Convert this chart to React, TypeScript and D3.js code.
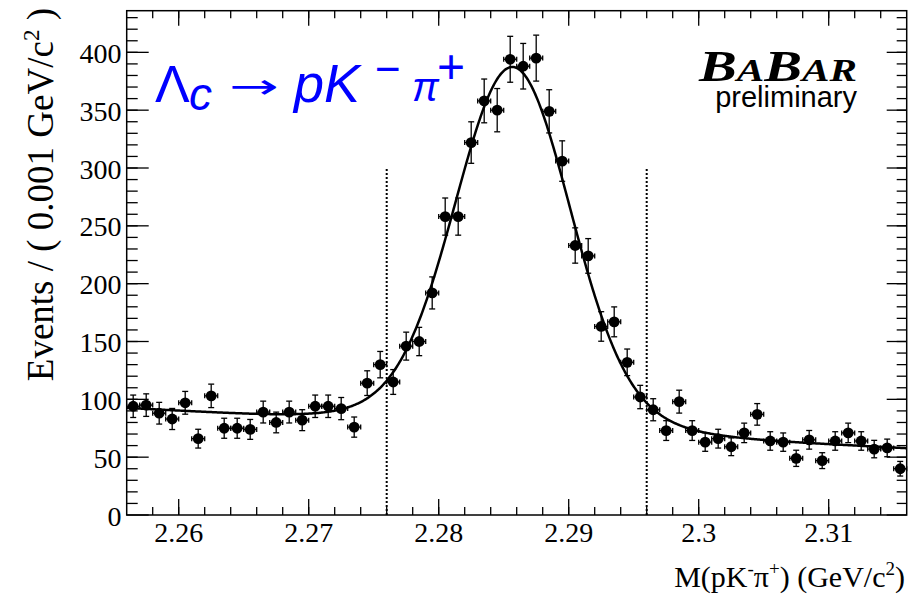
import React from "react";
import * as d3 from "d3";

const W = 922;
const H = 597;

// Histogram bin centres (GeV/c^2), bin width 0.001
const massBins = [
  2.2565, 2.2575, 2.2585, 2.2595, 2.2605, 2.2615, 2.2625, 2.2635, 2.2645, 2.2655,
  2.2665, 2.2675, 2.2685, 2.2695, 2.2705, 2.2715, 2.2725, 2.2735, 2.2745, 2.2755,
  2.2765, 2.2775, 2.2785, 2.2795, 2.2805, 2.2815, 2.2825, 2.2835, 2.2845, 2.2855,
  2.2865, 2.2875, 2.2885, 2.2895, 2.2905, 2.2915, 2.2925, 2.2935, 2.2945, 2.2955,
  2.2965, 2.2975, 2.2985, 2.2995, 2.3005, 2.3015, 2.3025, 2.3035, 2.3045, 2.3055,
  2.3065, 2.3075, 2.3085, 2.3095, 2.3105, 2.3115, 2.3125, 2.3135, 2.3145, 2.3155,
];
const binWidth = 0.001;

// Events per bin
const counts = [
  94, 95, 88, 83, 97, 66, 103, 75, 75, 74,
  89, 80, 89, 82, 94, 94, 92, 76, 114, 130,
  115, 146, 150, 192, 258, 258, 322, 358, 350, 394,
  388, 395, 349, 306, 233, 224, 163, 167, 132, 102,
  91, 73, 98, 73, 63, 66, 59, 71, 87, 64,
  63, 49, 65, 47, 64, 71, 64, 57, 58, 40,
];

const xDomain = [2.256, 2.316];
const yDomain = [0, 436];
const xTicks = [2.26, 2.27, 2.28, 2.29, 2.3, 2.31];
const xTickLabels = ["2.26", "2.27", "2.28", "2.29", "2.3", "2.31"];
const yTicks = [0, 50, 100, 150, 200, 250, 300, 350, 400];
const yTickLabels = ["0", "50", "100", "150", "200", "250", "300", "350", "400"];

// signal window (dotted lines)
const signalWindow = [2.276, 2.296];
const signalWindowTop = 300;

// fit: linear background + double Gaussian
const bgRef = 2.2565;
const bgAtRef = 92.3;
const bgSlope = -581;
const peakMean = 2.2857;
const coreAmp = 277;
const coreSigma = 0.0043;
const wideAmp = 35;
const wideSigma = 0.007;

function fitModel(m: number) {
  const d = m - peakMean;
  return (
    bgAtRef +
    bgSlope * (m - bgRef) +
    coreAmp * Math.exp(-0.5 * (d / coreSigma) ** 2) +
    wideAmp * Math.exp(-0.5 * (d / wideSigma) ** 2)
  );
}

const L = 126.7, R = 906.7, T = 10.7, B = 515;

export default function App() {
  const x = d3.scaleLinear().domain(xDomain).range([L, R]);
  const y = d3.scaleLinear().domain(yDomain).range([B, T]);

  const xMinor = d3.range(0, 31).map((i) => xDomain[0] + i * 0.002).filter((v) => v > xDomain[0] + 1e-9 && v < xDomain[1] - 1e-9);
  const yMinor = d3.range(0, 44).map((i) => i * 10).filter((v) => v > 0 && v < yDomain[1]);

  const curveSamples = d3.range(0, 801).map((i) => xDomain[0] + (i / 800) * (xDomain[1] - xDomain[0]));
  const line = d3
    .line<number>()
    .x((m) => x(m))
    .y((m) => y(fitModel(m)));

  const serif = "'Liberation Serif', 'Times New Roman', serif";
  const sans = "'Liberation Sans', Arial, Helvetica, sans-serif";

  return (
    <div style={{ position: "absolute", left: 0, top: 0 }}>
      <svg width={W} height={H} style={{ display: "block", background: "#fff" }}>
        <rect x={0} y={0} width={W} height={H} fill="#fff" />

        {/* minor ticks */}
        {xMinor.map((v, i) => (
          <g key={"xm" + i} stroke="#000" strokeWidth={1.3}>
            <line x1={x(v)} x2={x(v)} y1={B} y2={B - 8} />
            <line x1={x(v)} x2={x(v)} y1={T} y2={T + 7.5} />
          </g>
        ))}
        {xTicks.map((v, i) => (
          <g key={"xM" + i} stroke="#000" strokeWidth={1.3}>
            <line x1={x(v)} x2={x(v)} y1={B} y2={B - 16} />
            <line x1={x(v)} x2={x(v)} y1={T} y2={T + 15} />
          </g>
        ))}
        {yMinor.map((v, i) => (
          <g key={"ym" + i} stroke="#000" strokeWidth={1.3}>
            <line x1={L} x2={L + 11} y1={y(v)} y2={y(v)} />
            <line x1={R} x2={R - 10} y1={y(v)} y2={y(v)} />
          </g>
        ))}
        {yTicks.map((v, i) => (
          <g key={"yM" + i} stroke="#000" strokeWidth={1.3}>
            <line x1={L} x2={L + 22} y1={y(v)} y2={y(v)} />
            <line x1={R} x2={R - 20} y1={y(v)} y2={y(v)} />
          </g>
        ))}

        {/* frame */}
        <rect x={L} y={T} width={R - L} height={B - T} fill="none" stroke="#000" strokeWidth={1.5} />

        {/* tick labels */}
        {xTicks.map((v, i) => (
          <text key={"xl" + i} x={x(v)} y={541.5} textAnchor="middle" fontFamily={serif} fontSize={28} fill="#000">
            {xTickLabels[i]}
          </text>
        ))}
        {yTicks.map((v, i) => (
          <text key={"yl" + i} x={121.5} y={y(v) + 10.5} textAnchor="end" fontFamily={serif} fontSize={28} fill="#000">
            {yTickLabels[i]}
          </text>
        ))}

        {/* axis titles */}
        <text x={905} y={587} textAnchor="end" fontFamily={serif} fontSize={30} fill="#000">
          M(pK<tspan dy={-12} fontSize={19}>-</tspan>
          <tspan dy={12}>π</tspan>
          <tspan dy={-12} fontSize={19}>+</tspan>
          <tspan dy={12}>) (GeV/c</tspan>
          <tspan dy={-12} fontSize={19}>2</tspan>
          <tspan dy={12}>)</tspan>
        </text>
        <text
          transform="translate(53,8) rotate(-90)"
          textAnchor="end"
          fontFamily={serif}
          fontSize={37}
          fill="#000"
        >
          Events / ( 0.001 GeV/c<tspan dy={-14} fontSize={23}>2</tspan>
          <tspan dy={14}> )</tspan>
        </text>

        {/* signal window */}
        {signalWindow.map((v, i) => (
          <line key={"sw" + i} x1={x(v)} x2={x(v)} y1={y(0)} y2={y(signalWindowTop)} stroke="#000" strokeWidth={2} strokeDasharray="2,2" />
        ))}

        {/* fit curve */}
        <path d={line(curveSamples) || ""} fill="none" stroke="#000" strokeWidth={2.5} />

        {/* data points */}
        {massBins.map((m, i) => {
          const n = counts[i];
          const e = Math.sqrt(n);
          const cx = x(m);
          const cy = y(n);
          const xl = x(m - binWidth / 2);
          const xr = x(m + binWidth / 2);
          const yt = y(n + e);
          const yb = y(n - e);
          return (
            <g key={"p" + i} stroke="#000" strokeWidth={1.3}>
              <line x1={cx} x2={cx} y1={yt} y2={yb} />
              <line x1={cx - 3} x2={cx + 3} y1={yt} y2={yt} />
              <line x1={cx - 3} x2={cx + 3} y1={yb} y2={yb} />
              <line x1={xl} x2={xr} y1={cy} y2={cy} />
              <line x1={xl} x2={xl} y1={cy - 2.5} y2={cy + 2.5} />
              <line x1={xr} x2={xr} y1={cy - 2.5} y2={cy + 2.5} />
              <circle cx={cx} cy={cy} r={5.4} fill="#000" stroke="none" />
            </g>
          );
        })}

        {/* decay label */}
        <g fill="#0000ff" fontFamily={sans}>
          <text x={155} y={101.5} fontSize={52}>Λ</text>
          <text x={189} y={110} fontSize={46} fontStyle="italic">c</text>
          <text transform="translate(229,98) scale(1.75,1)" fontFamily="'DejaVu Sans', sans-serif" fontSize={34}>→</text>
          <text x={294} y={101.5} fontSize={54} fontStyle="italic">pK</text>
          <text x={375} y={84} fontSize={44}>−</text>
          <text x={412} y={101} fontStyle="italic" fontSize={40}>π</text>
          <text x={437} y={83} fontSize={48}>+</text>
        </g>

        {/* BaBar logo */}
        <text
          x={699}
          y={81}
          textLength={158}
          lengthAdjust="spacingAndGlyphs"
          fontFamily={serif}
          fontWeight="bold"
          fontStyle="italic"
          fill="#000"
        >
          <tspan fontSize={44}>B</tspan>
          <tspan fontSize={32}>A</tspan>
          <tspan fontSize={44}>B</tspan>
          <tspan fontSize={32}>AR</tspan>
        </text>
        <text x={857} y={107} textAnchor="end" fontFamily={sans} fontSize={29} fill="#000">
          preliminary
        </text>
      </svg>
    </div>
  );
}
